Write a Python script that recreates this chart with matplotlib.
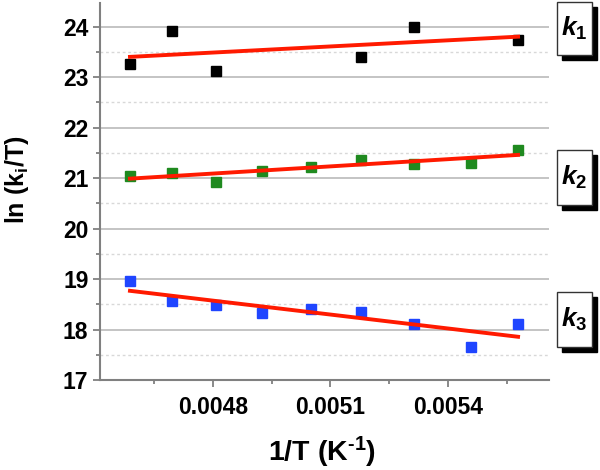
import numpy as np
import matplotlib
matplotlib.use('Agg')
import matplotlib.pyplot as plt
from matplotlib.patches import Rectangle
from matplotlib.ticker import MultipleLocator

plt.rcParams['font.family'] = ['Liberation Sans', 'DejaVu Sans']
plt.rcParams['font.weight'] = 'bold'
plt.rcParams['mathtext.fontset'] = 'custom'
plt.rcParams['mathtext.rm'] = 'Liberation Sans:bold'
plt.rcParams['mathtext.it'] = 'Liberation Sans:bold:italic'
plt.rcParams['mathtext.bf'] = 'Liberation Sans:bold'

# 1/T values (K^-1)
inv_T = [0.004588, 0.004695, 0.004808, 0.004925, 0.005049,
         0.005179, 0.005313, 0.005459, 0.005579]

# k1 measured at a subset of temperatures
k1_x = [0.004588, 0.004695, 0.004808, 0.005179, 0.005313, 0.005579]
k1_y = [23.26, 23.91, 23.13, 23.40, 23.99, 23.73]
k2_y = [21.05, 21.11, 20.93, 21.14, 21.22, 21.36, 21.27, 21.29, 21.55]
k3_y = [18.97, 18.57, 18.49, 18.33, 18.40, 18.36, 18.12, 17.65, 18.12]

# linear fits read at the first and last 1/T
fit_x = [0.004588, 0.005579]
fit1 = [23.40, 23.80]
fit2 = [20.99, 21.46]
fit3 = [18.77, 17.86]

series = [(k1_x, k1_y, 'black'), (inv_T, k2_y, '#1f8a1f'), (inv_T, k3_y, '#1f45ff')]
fits = [fit1, fit2, fit3]
names = [r'$k_\mathrm{1}$', r'$k_\mathrm{2}$', r'$k_\mathrm{3}$']

fig = plt.figure(figsize=(6, 4.7), dpi=100)
ax = fig.add_axes([0.167, 0.191, 0.748, 0.803])

ax.yaxis.set_major_locator(MultipleLocator(1))
ax.yaxis.set_minor_locator(MultipleLocator(0.5))
ax.set_xticks([0.0048, 0.0051, 0.0054])
ax.xaxis.set_minor_locator(MultipleLocator(0.00015))
ax.grid(axis='y', which='major', color='#c4c4c4', lw=1.4)
ax.grid(axis='y', which='minor', color='#d8d8d8', lw=1.0, ls=(0, (2, 2)))
ax.set_axisbelow(True)

for (xs, ys, c), f in zip(series, fits):
    ax.plot(xs, ys, 's', color=c, ms=6.8, zorder=3)
    ax.plot(fit_x, f, '-', color='#ff1a00', lw=2.8, zorder=4)

ax.set_xlim(0.004512, 0.005658)
ax.set_ylim(17, 24.47)
for s in ['top', 'right']:
    ax.spines[s].set_visible(False)
for s in ['left', 'bottom']:
    ax.spines[s].set_color('#808080')
    ax.spines[s].set_linewidth(1.5)
ax.tick_params(which='both', direction='out', color='#808080', width=1.3)
ax.tick_params(which='major', length=5, labelsize=16.5)
ax.tick_params(axis='x', which='major', pad=6)
ax.tick_params(which='minor', length=3)
ax.set_xticklabels(['0.0048', '0.0051', '0.0054'])

ax.set_xlabel('1/T (K$^{\\mathrm{\u20101}}$)', fontsize=20.5, fontweight='bold')
ax.set_ylabel(r'ln (k$_{\mathrm{i}}$/T)', fontsize=18, fontweight='bold')
ax.xaxis.set_label_coords(0.495, -0.19)
ax.xaxis.label.set_va('center')
ax.yaxis.set_label_coords(-0.185, 0.53)
ax.yaxis.label.set_va('center')

# boxed labels with drop shadow (pixel positions in figure)
W, H = 600, 470
boxes = [(557, 2, 35, 53), (557, 150, 35, 55), (557, 292, 35, 55)]
for (bx, by, bw, bh), name in zip(boxes, names):
    sh = Rectangle(((bx + 5) / W, 1 - (by + bh + 5) / H), bw / W, bh / H,
                   transform=fig.transFigure, fc='black', ec='black', lw=1)
    bx_r = Rectangle((bx / W, 1 - (by + bh) / H), bw / W, bh / H,
                     transform=fig.transFigure, fc='white', ec='#333333', lw=1)
    fig.add_artist(sh)
    fig.add_artist(bx_r)
    fig.text((bx + bw / 2) / W, 1 - (by + bh / 2) / H, name, fontsize=19,
             ha='center', va='center')

fig.savefig('out.png', dpi=100)
